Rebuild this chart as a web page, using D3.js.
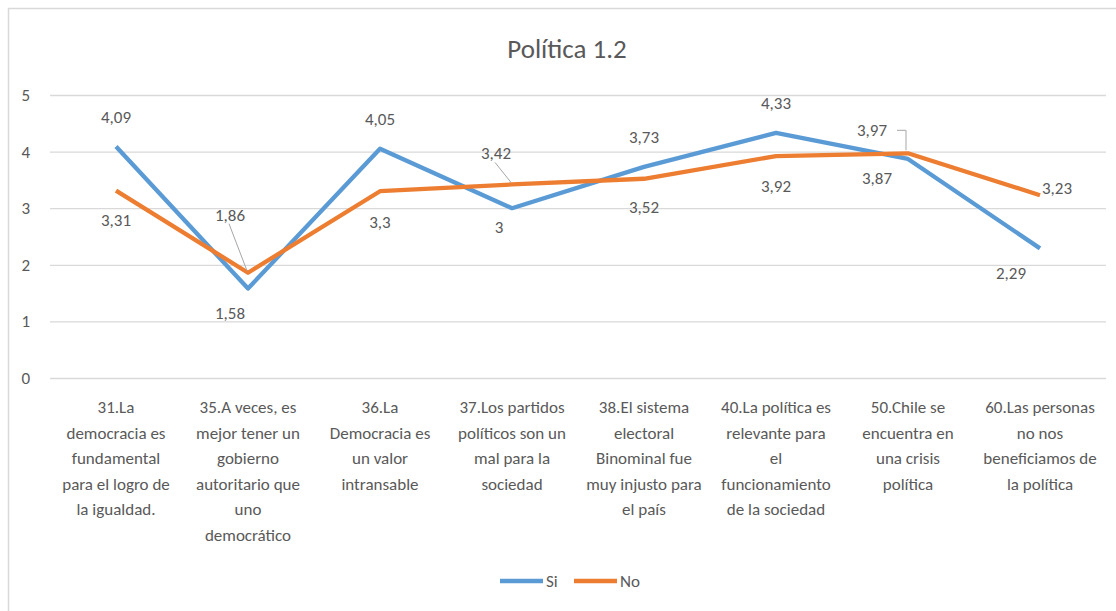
<!DOCTYPE html>
<html>
<head>
<meta charset="utf-8">
<script src="https://cdnjs.cloudflare.com/ajax/libs/d3/7.8.5/d3.min.js"></script>
<style>
  body { margin: 0; background: #fff; }
  text { font-family: Calibri, Carlito, Lato, sans-serif; fill: #595959; }
</style>
</head>
<body>
<div id="chart"></div>
<script>
// categorias (saltos de linea como en el original)
var categories = [
  '31.La\ndemocracia es\nfundamental\npara el logro de\nla igualdad.',
  '35.A veces, es\nmejor tener un\ngobierno\nautoritario que\nuno\ndemocrático',
  '36.La\nDemocracia es\nun valor\nintransable',
  '37.Los partidos\npolíticos son un\nmal para la\nsociedad',
  '38.El sistema\nelectoral\nBinominal fue\nmuy injusto para\nel país',
  '40.La política es\nrelevante para\nel\nfuncionamiento\nde la sociedad',
  '50.Chile se\nencuentra en\nuna crisis\npolítica',
  '60.Las personas\nno nos\nbeneficiamos de\nla política'
];
var si = [4.09, 1.58, 4.05, 3, 3.73, 4.33, 3.87, 2.29];
var no = [3.31, 1.86, 3.3, 3.42, 3.52, 3.92, 3.97, 3.23];
var yTicks = [0, 1, 2, 3, 4, 5];
var seriesNames = ['Si', 'No'];
var colors = ['#5b9bd5', '#ed7d31'];

// where each data label sits relative to its point [dx, dy]
var siLabelOff = [[0, -29], [-18, 24], [0, -30], [-13, 19], [0, -30], [0, -30], [-31, 19], [-29, 25]];
var noLabelOff = [[0, 29], [-18, -58], [0, 31], [-16, -31], [0, 28], [0, 30], [-36, -23], [17, -7]];
var noLeader = [null, true, null, true, null, null, 'elbow', null];

var W = 1116, H = 611;
var margin = {left: 50, right: 10, top: 95, bottom: 233};

var svg = d3.select('#chart').append('svg')
  .attr('width', W)
  .attr('height', H);

// chart frame: only top and left edges are inside the picture
svg.append('path')
  .attr('d', 'M8.5,' + H + 'V8.5H' + W)
  .attr('fill', 'none')
  .attr('stroke', '#d9d9d9')
  .attr('stroke-width', 1.5);

var x = d3.scaleBand()
  .domain(d3.range(categories.length))
  .range([margin.left, W - margin.right]);

var y = d3.scaleLinear()
  .domain([0, 5])
  .range([H - margin.bottom, margin.top]);

var cx = function(i) { return x(i) + x.bandwidth() / 2; };

svg.append('text')
  .attr('x', 567).attr('y', 58)
  .attr('text-anchor', 'middle')
  .style('font-size', '27px')
  .text('Política 1.2');

// grid + y axis
var yAxis = svg.append('g')
  .attr('transform', 'translate(' + margin.left + ',0)')
  .call(d3.axisLeft(y).tickValues(yTicks).tickFormat(d3.format('d'))
    .tickSize(-(W - margin.left - margin.right)).tickPadding(20));
yAxis.select('.domain').remove();
yAxis.selectAll('.tick line').attr('stroke', '#d9d9d9').attr('stroke-width', 1.3);
yAxis.selectAll('.tick text').style('font-size', '17px').attr('fill', '#595959');

// x labels
var xl = svg.append('g').selectAll('text')
  .data(categories)
  .join('text')
  .attr('text-anchor', 'middle')
  .style('font-size', '17px');
xl.each(function(d, i) {
  var t = d3.select(this);
  d.split('\n').forEach(function(line, k) {
    t.append('tspan')
      .attr('x', cx(i))
      .attr('y', 413 + k * 25.5)
      .text(line);
  });
});

// lines
var line = d3.line()
  .x(function(d, i) { return cx(i); })
  .y(function(d) { return y(d); });

[si, no].forEach(function(vals, s) {
  svg.append('path')
    .datum(vals)
    .attr('fill', 'none')
    .attr('stroke', colors[s])
    .attr('stroke-width', 4.3)
    .attr('stroke-linejoin', 'round')
    .attr('d', line);
});

// leader lines for the moved labels
var fmt = function(v) { return String(v).replace('.', ','); };
no.forEach(function(v, i) {
  if (!noLeader[i]) return;
  var lx = cx(i) + noLabelOff[i][0], ly = y(v) + noLabelOff[i][1];
  var p;
  if (noLeader[i] === 'elbow') {
    p = 'M' + (lx + 25) + ',' + (ly) + 'H' + (cx(i) - 2) + 'V' + (y(v) - 3);
  } else {
    p = 'M' + (lx - 1) + ',' + (ly + 9) + 'L' + (cx(i) - 1) + ',' + (y(v) - 2);
  }
  svg.append('path')
    .attr('d', p)
    .attr('fill', 'none')
    .attr('stroke', '#a6a6a6')
    .attr('stroke-width', 1);
});

// data labels
function labels(vals, off) {
  svg.append('g').selectAll('text')
    .data(vals)
    .join('text')
    .attr('x', function(d, i) { return cx(i) + off[i][0]; })
    .attr('y', function(d, i) { return y(d) + off[i][1]; })
    .attr('text-anchor', 'middle')
    .attr('dy', '0.35em')
    .style('font-size', '17px')
    .text(fmt);
}
labels(si, siLabelOff);
labels(no, noLabelOff);

// legend
var leg = svg.append('g').attr('transform', 'translate(500,581)');
seriesNames.forEach(function(name, s) {
  var g = leg.append('g').attr('transform', 'translate(' + (s * 74) + ',0)');
  g.append('line')
    .attr('x1', 0).attr('x2', 43)
    .attr('stroke', colors[s])
    .attr('stroke-width', 4.3);
  g.append('text')
    .attr('x', 46).attr('dy', '0.35em')
    .style('font-size', '17px')
    .text(name);
});
</script>
</body>
</html>
